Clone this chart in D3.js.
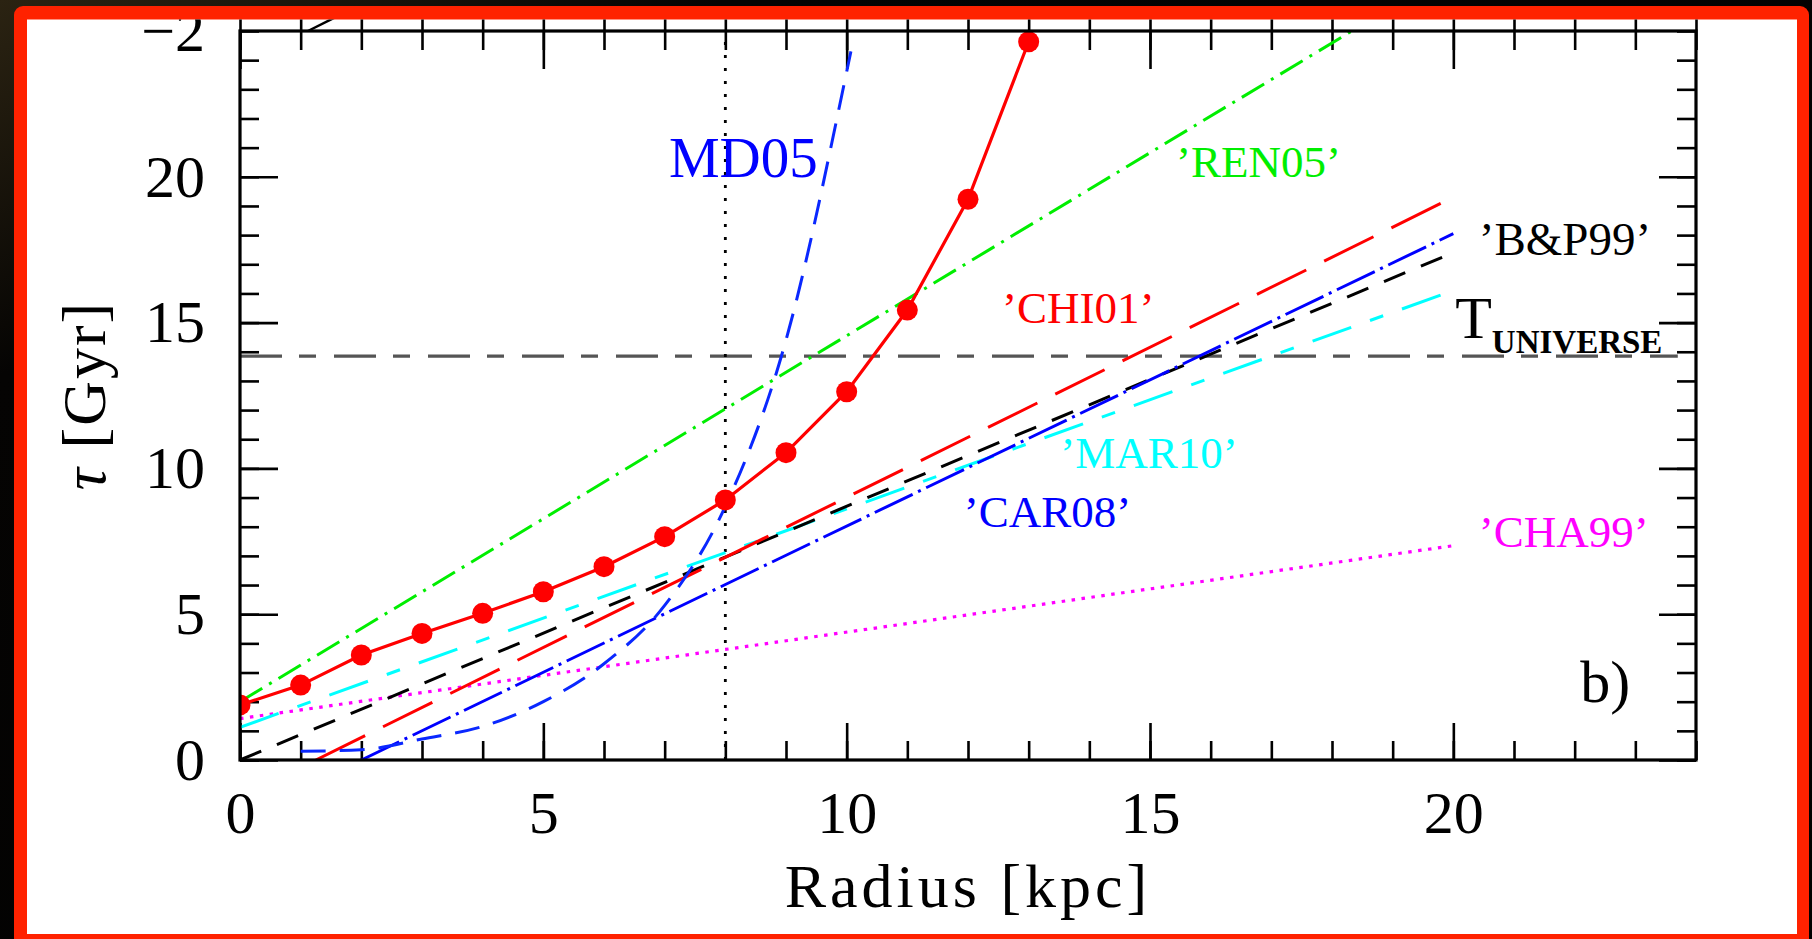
<!DOCTYPE html>
<html>
<head>
<meta charset="utf-8">
<script src="https://cdn.jsdelivr.net/npm/d3@7"></script>
<style>
  html, body { margin: 0; padding: 0; background: #000; overflow: hidden; }
  svg { display: block; }
  text { font-family: "Liberation Serif", "Times New Roman", serif; }
</style>
</head>
<body>
<svg id="chart" width="1812" height="939"></svg>
<script>
// ---- data (radius in kpc, tau in Gyr) ----
var modelRadius = [0, 1, 2, 3, 4, 5, 6, 7, 8, 9, 10, 11, 12, 13];
var modelTau    = [1.89, 2.57, 3.6, 4.34, 5.03, 5.77, 6.63, 7.66, 8.92, 10.54, 12.63, 15.43, 19.23, 24.63];

var md05Radius = [1, 2, 3, 4, 5, 6, 7, 8, 9, 10, 10.07];
var md05Tau    = [0.3, 0.35, 0.72, 1.15, 2.0, 3.3, 5.3, 8.7, 14.4, 23.6, 24.3];

var ren05 = [[0, 2.0], [20, 27.1]];
var chi01 = [[1.25, 0], [20, 19.3]];
var bp99  = [[0, 0], [20, 17.4]];
var car08 = [[2.0, 0], [20, 18.05]];
var mar10 = [[0, 1.12], [20, 16.1]];
var cha99 = [[0, 1.42], [20, 7.35]];

var tUniverse = 13.85;           // Gyr
var tUniverseRange = [0, 23.7];
var solarRadius = 8;             // kpc, dotted vertical

var xMajorTicks = [0, 5, 10, 15, 20];
var yMajorTicks = [0, 5, 10, 15, 20];
var xMinorTicks = d3.range(0, 25, 1);
var yMinorTicks = d3.range(0, 26, 1);

// bits of the panel above that peek in at the top
var aboveTickLabel = "\u22122";
var aboveLine = [[1.12, 25.0], [1.6, 25.5]];

var labelText = ["MD05", "\u2019REN05\u2019", "\u2019CHI01\u2019", "\u2019B&P99\u2019", "\u2019MAR10\u2019", "\u2019CAR08\u2019", "\u2019CHA99\u2019", "b)"];
var labelX    = [7.07, 15.43, 12.56, 20.42, 13.52, 11.93, 20.42, 22.09];
var labelY    = [20.0, 20.0, 14.99, 17.32, 10.01, 7.99, 7.3, 1.99];

// ---- layout ----
var W = 1812, H = 939;
var margin = {top: 31, right: 116, bottom: 179, left: 240},
    width = W - margin.left - margin.right,
    height = H - margin.top - margin.bottom;

var svg = d3.select("#chart");
var defs = svg.append("defs");

var grad = defs.append("linearGradient").attr("id", "bg")
  .attr("x1", 0).attr("y1", 0).attr("x2", 1).attr("y2", 1);
grad.append("stop").attr("offset", "0%").attr("stop-color", "#2b2312");
grad.append("stop").attr("offset", "20%").attr("stop-color", "#050403");
grad.append("stop").attr("offset", "100%").attr("stop-color", "#000");

svg.append("rect").attr("width", W).attr("height", H).attr("fill", "url(#bg)");
svg.append("rect").attr("x", 14).attr("y", 6).attr("width", 1795).attr("height", 945)
  .attr("rx", 9).attr("fill", "#ff2200");
svg.append("rect").attr("x", 27).attr("y", 19.5).attr("width", 1770).attr("height", 914.5)
  .attr("fill", "#fff");

var g = svg.append("g")
  .attr("transform", "translate(" + margin.left + "," + margin.top + ")");

defs.append("clipPath").attr("id", "plotclip").append("rect")
  .attr("x", 0).attr("y", 0).attr("width", width).attr("height", height);
defs.append("clipPath").attr("id", "pageclip").append("rect")
  .attr("x", 27 - margin.left).attr("y", 19.5 - margin.top).attr("width", 1770).attr("height", 914);

var x = d3.scaleLinear().domain([0, 24]).range([0, width]);
var y = d3.scaleLinear().domain([0, 25]).range([height, 0]);

// ---- axes ----
function styleAxis(sel) {
  sel.select(".domain").remove();
  sel.selectAll(".tick line").attr("stroke", "#000").attr("stroke-width", 2.6);
  sel.selectAll(".tick text").attr("fill", "#000")
    .style("font-family", "'Liberation Serif', serif").style("font-size", "60px");
}

g.append("g").attr("transform", "translate(0," + height + ")")
  .call(d3.axisBottom(x).tickValues(xMinorTicks).tickSize(-19).tickFormat("")).call(styleAxis);
g.append("g").attr("transform", "translate(0," + height + ")")
  .call(d3.axisBottom(x).tickValues(xMajorTicks).tickSize(-37).tickPadding(30).tickFormat(d3.format("d")))
  .call(styleAxis);

g.append("g")
  .call(d3.axisTop(x).tickValues(xMinorTicks).tickSize(-19).tickFormat("")).call(styleAxis);
g.append("g")
  .call(d3.axisTop(x).tickValues(xMajorTicks).tickSize(-38).tickFormat("")).call(styleAxis);
// ticks of the panel above, pointing up
g.append("g").attr("clip-path", "url(#pageclip)")
  .call(d3.axisTop(x).tickValues(xMinorTicks).tickSize(14).tickFormat("")).call(styleAxis);

g.append("g")
  .call(d3.axisLeft(y).tickValues(yMinorTicks).tickSize(-19).tickFormat("")).call(styleAxis);
g.append("g")
  .call(d3.axisLeft(y).tickValues(yMajorTicks).tickSize(-38).tickPadding(35).tickFormat(d3.format("d")))
  .call(styleAxis);

g.append("g").attr("transform", "translate(" + width + ",0)")
  .call(d3.axisRight(y).tickValues(yMinorTicks).tickSize(-19).tickFormat("")).call(styleAxis);
g.append("g").attr("transform", "translate(" + width + ",0)")
  .call(d3.axisRight(y).tickValues(yMajorTicks).tickSize(-37).tickFormat("")).call(styleAxis);

// label of the panel above, partly hidden by the frame
g.append("g").attr("clip-path", "url(#pageclip)")
  .append("text")
  .attr("x", -35).attr("y", y(25) + 20)
  .attr("text-anchor", "end")
  .style("font-size", "60px")
  .text(aboveTickLabel);

var line = d3.line()
  .x(function(d) { return x(d[0]); })
  .y(function(d) { return y(d[1]); });

g.append("path").attr("clip-path", "url(#pageclip)")
  .attr("d", line(aboveLine))
  .attr("stroke", "#000").attr("stroke-width", 2.5).attr("fill", "none");

// ---- curves ----
var plot = g.append("g").attr("clip-path", "url(#plotclip)");

plot.append("path")
  .attr("d", line([[0, tUniverse], [tUniverseRange[1], tUniverse]]))
  .attr("stroke", "#555").attr("stroke-width", 3.2).attr("fill", "none")
  .attr("stroke-dasharray", "42,17,17,18");

plot.append("path")
  .attr("d", line([[solarRadius, 0], [solarRadius, 25]]))
  .attr("stroke", "#000").attr("stroke-width", 2.8).attr("fill", "none")
  .attr("stroke-dasharray", "3,10");

var straightSeries = [
  {name: "CHA99", values: cha99, color: "#ff00ff", dash: "3.5,6.5", w: 3.2},
  {name: "MAR10", values: mar10, color: "#00ffff", dash: "41,20,14,20", w: 3},
  {name: "B&P99", values: bp99,  color: "#000000", dash: "23,17", w: 3},
  {name: "CHI01", values: chi01, color: "#ff0000", dash: "55,20", w: 3},
  {name: "CAR08", values: car08, color: "#0000ff", dash: "42,6,3,6", w: 3},
  {name: "REN05", values: ren05, color: "#00ee00", dash: "26,8,3,8", w: 3}
];

plot.selectAll("path.series")
  .data(straightSeries)
  .enter()
  .append("path")
    .attr("class", "series")
    .attr("d", function(d) { return line(d.values); })
    .attr("stroke", function(d) { return d.color; })
    .attr("stroke-width", function(d) { return d.w; })
    .attr("stroke-dasharray", function(d) { return d.dash; })
    .attr("fill", "none");

var md05 = md05Radius.map(function(r, i) { return [r, md05Tau[i]]; });
plot.append("path")
  .attr("d", line.curve(d3.curveMonotoneX)(md05))
  .attr("stroke", "#0a28ff").attr("stroke-width", 3).attr("fill", "none")
  .attr("stroke-dasharray", "25,14");
line.curve(d3.curveLinear);

var model = modelRadius.map(function(r, i) { return [r, modelTau[i]]; });
plot.append("path")
  .attr("d", line(model))
  .attr("stroke", "#ff0000").attr("stroke-width", 3.2).attr("fill", "none");
plot.selectAll("circle.pt")
  .data(model)
  .enter()
  .append("circle")
    .attr("class", "pt")
    .attr("cx", function(d) { return x(d[0]); })
    .attr("cy", function(d) { return y(d[1]); })
    .attr("r", 10.5)
    .attr("fill", "#ff0000");

// frame
g.append("rect").attr("width", width).attr("height", height)
  .attr("fill", "none").attr("stroke", "#000").attr("stroke-width", 3.2);

// ---- labels ----
var labelColor = ["#0000ff", "#00ee00", "#ff0000", "#000000", "#00ffff", "#0000ff", "#ff00ff", "#000000"];
var labelSize  = [57, 45, 45, 47, 45, 45, 45, 60];

g.selectAll("text.lab")
  .data(labelText)
  .enter()
  .append("text")
    .attr("class", "lab")
    .attr("x", function(d, i) { return x(labelX[i]); })
    .attr("y", function(d, i) { return y(labelY[i]); })
    .attr("fill", function(d, i) { return labelColor[i]; })
    .style("font-size", function(d, i) { return labelSize[i] + "px"; })
    .text(function(d) { return d; });

var tu = g.append("text")
  .attr("x", x(20.03)).attr("y", y(14.47))
  .style("font-size", "60px").attr("fill", "#000");
tu.append("tspan").text("T");
tu.append("tspan").attr("dy", 15).style("font-size", "33px").style("font-weight", "bold").text("UNIVERSE");

// axis titles
svg.append("text")
  .attr("x", margin.left + width / 2).attr("y", 907)
  .attr("text-anchor", "middle")
  .style("font-size", "62px").style("letter-spacing", "4px")
  .text("Radius [kpc]");

var yt = svg.append("text")
  .attr("transform", "translate(105," + (margin.top + height / 2) + ") rotate(-90)")
  .attr("text-anchor", "middle")
  .style("font-size", "62px").style("letter-spacing", "2px");
yt.append("tspan").style("font-style", "italic").text("\u03c4");
yt.append("tspan").text(" [Gyr]");
</script>
</body>
</html>
